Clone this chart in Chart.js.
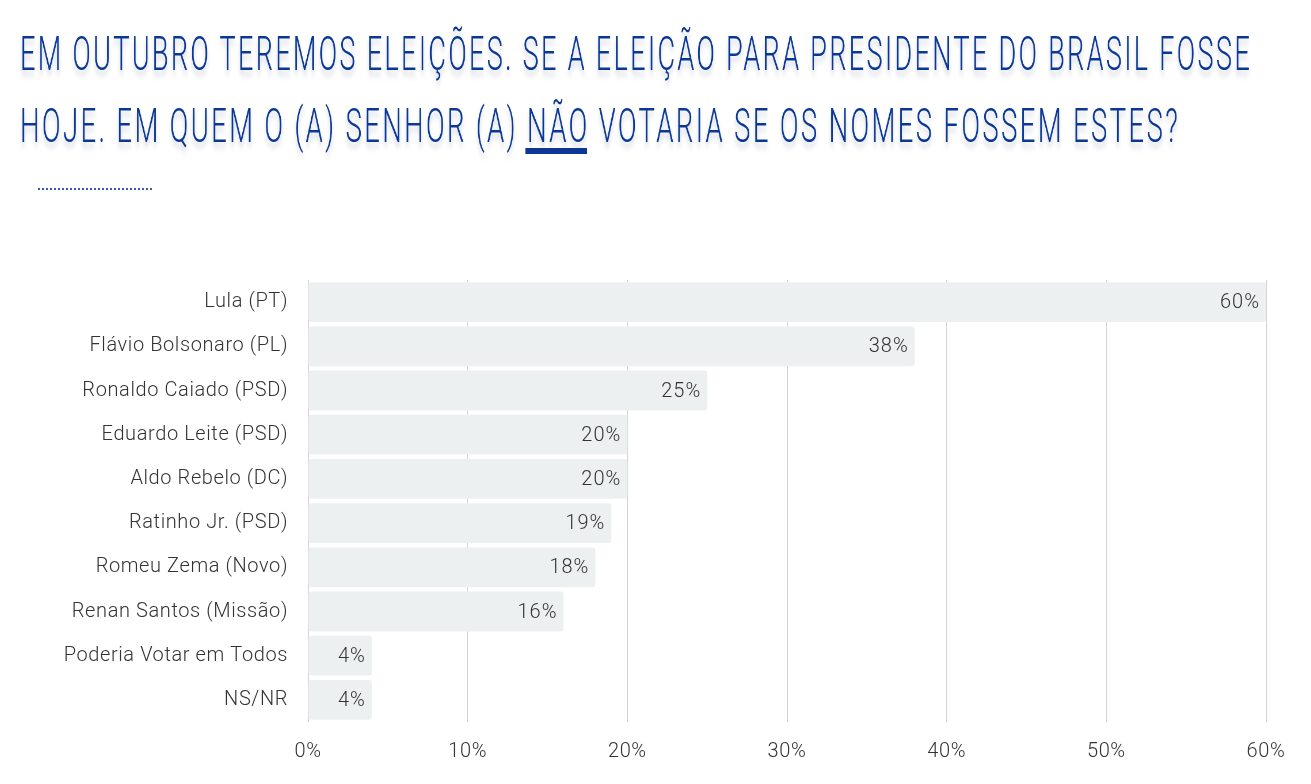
<!DOCTYPE html>
<html><head><meta charset="utf-8">
<script src="https://cdn.jsdelivr.net/npm/chart.js@4.4.1/dist/chart.umd.min.js"></script>
<style>
html,body{margin:0;padding:0;background:#fff;width:1311px;height:784px;overflow:hidden;position:relative;}
.tl{position:absolute;left:20px;white-space:nowrap;font-family:"Roboto",sans-serif;font-weight:300;font-size:48px;color:#0b3896;transform-origin:0 0;text-shadow:0 5px 6px rgba(20,40,90,0.22);letter-spacing:4px;-webkit-font-smoothing:antialiased;will-change:transform;}
.u{position:relative;}
.u:after{content:"";position:absolute;left:-3px;right:4px;bottom:0px;height:6px;background:#0b3896;}
#dots{position:absolute;left:38px;top:188px;width:114px;border-top:2px dotted #3a5cae;}
#wrap{position:absolute;left:0;top:240px;width:1311px;height:544px;}
</style></head><body>
<div class="tl" id="l1" style="top:25px">EM OUTUBRO TEREMOS ELEIÇÕES. SE A ELEIÇÃO PARA PRESIDENTE DO BRASIL FOSSE</div>
<div class="tl" id="l2" style="top:97px">HOJE. EM QUEM O (A) SENHOR (A) <span class="u">NÃO</span> VOTARIA SE OS NOMES FOSSEM ESTES?</div>
<div id="dots"></div>
<div id="wrap"><canvas id="c"></canvas></div>
<script>
const categories = ["Lula (PT)","Flávio Bolsonaro (PL)","Ronaldo Caiado (PSD)","Eduardo Leite (PSD)","Aldo Rebelo (DC)","Ratinho Jr. (PSD)","Romeu Zema (Novo)","Renan Santos (Missão)","Poderia Votar em Todos","NS/NR"];
const values = [60,38,25,20,20,19,18,16,4,4];
const xTicks = [0,10,20,30,40,50,60];

function fitTitle(id, w){const el=document.getElementById(id);const r=el.getBoundingClientRect().width;el.style.transform='scaleX('+(w/r)+')';}
fitTitle('l1',1232);fitTitle('l2',1160);

const FONT = '"Roboto",sans-serif';
const spacing = {
  id:'spacing',
  beforeDraw(chart){chart.ctx.letterSpacing='0.6px';}
};
const valueLabels = {
  id:'valueLabels',
  afterDatasetsDraw(chart){
    const ctx=chart.ctx;const meta=chart.getDatasetMeta(0);
    ctx.save();ctx.letterSpacing='1px';ctx.font='300 20px '+FONT;ctx.fillStyle='#333';ctx.textAlign='right';ctx.textBaseline='middle';
    meta.data.forEach((b,i)=>{ctx.fillText(values[i]+'%',b.x-6,b.y+1);});
    ctx.restore();
  }
};
new Chart(document.getElementById('c'),{
  type:'bar',
  data:{labels:categories,datasets:[{data:values,backgroundColor:'#edf0f1',borderRadius:3,borderSkipped:false,categoryPercentage:0.9,barPercentage:1}]},
  options:{
    indexAxis:'y',responsive:true,maintainAspectRatio:false,animation:false,
    layout:{padding:{top:40,right:45,left:0,bottom:0}},
    plugins:{legend:{display:false},tooltip:{enabled:false}},
    scales:{
      x:{min:0,max:60,afterBuildTicks(s){s.ticks=xTicks.map(v=>({value:v}));},
        grid:{color:'#d4d4d4',lineWidth:1,drawTicks:false},border:{display:false},
        ticks:{padding:18,color:'#333',font:{family:FONT,size:20,weight:'300'},callback:v=>v+'%'},
        afterFit(s){s.height=62;}},
      y:{grid:{display:false,drawTicks:false},border:{display:false},
        ticks:{padding:20,color:'#333',font:{family:FONT,size:20,weight:'300'}},
        afterFit(s){s.width=308;}}
    }
  },
  plugins:[spacing,valueLabels]
});
</script>
</body></html>
